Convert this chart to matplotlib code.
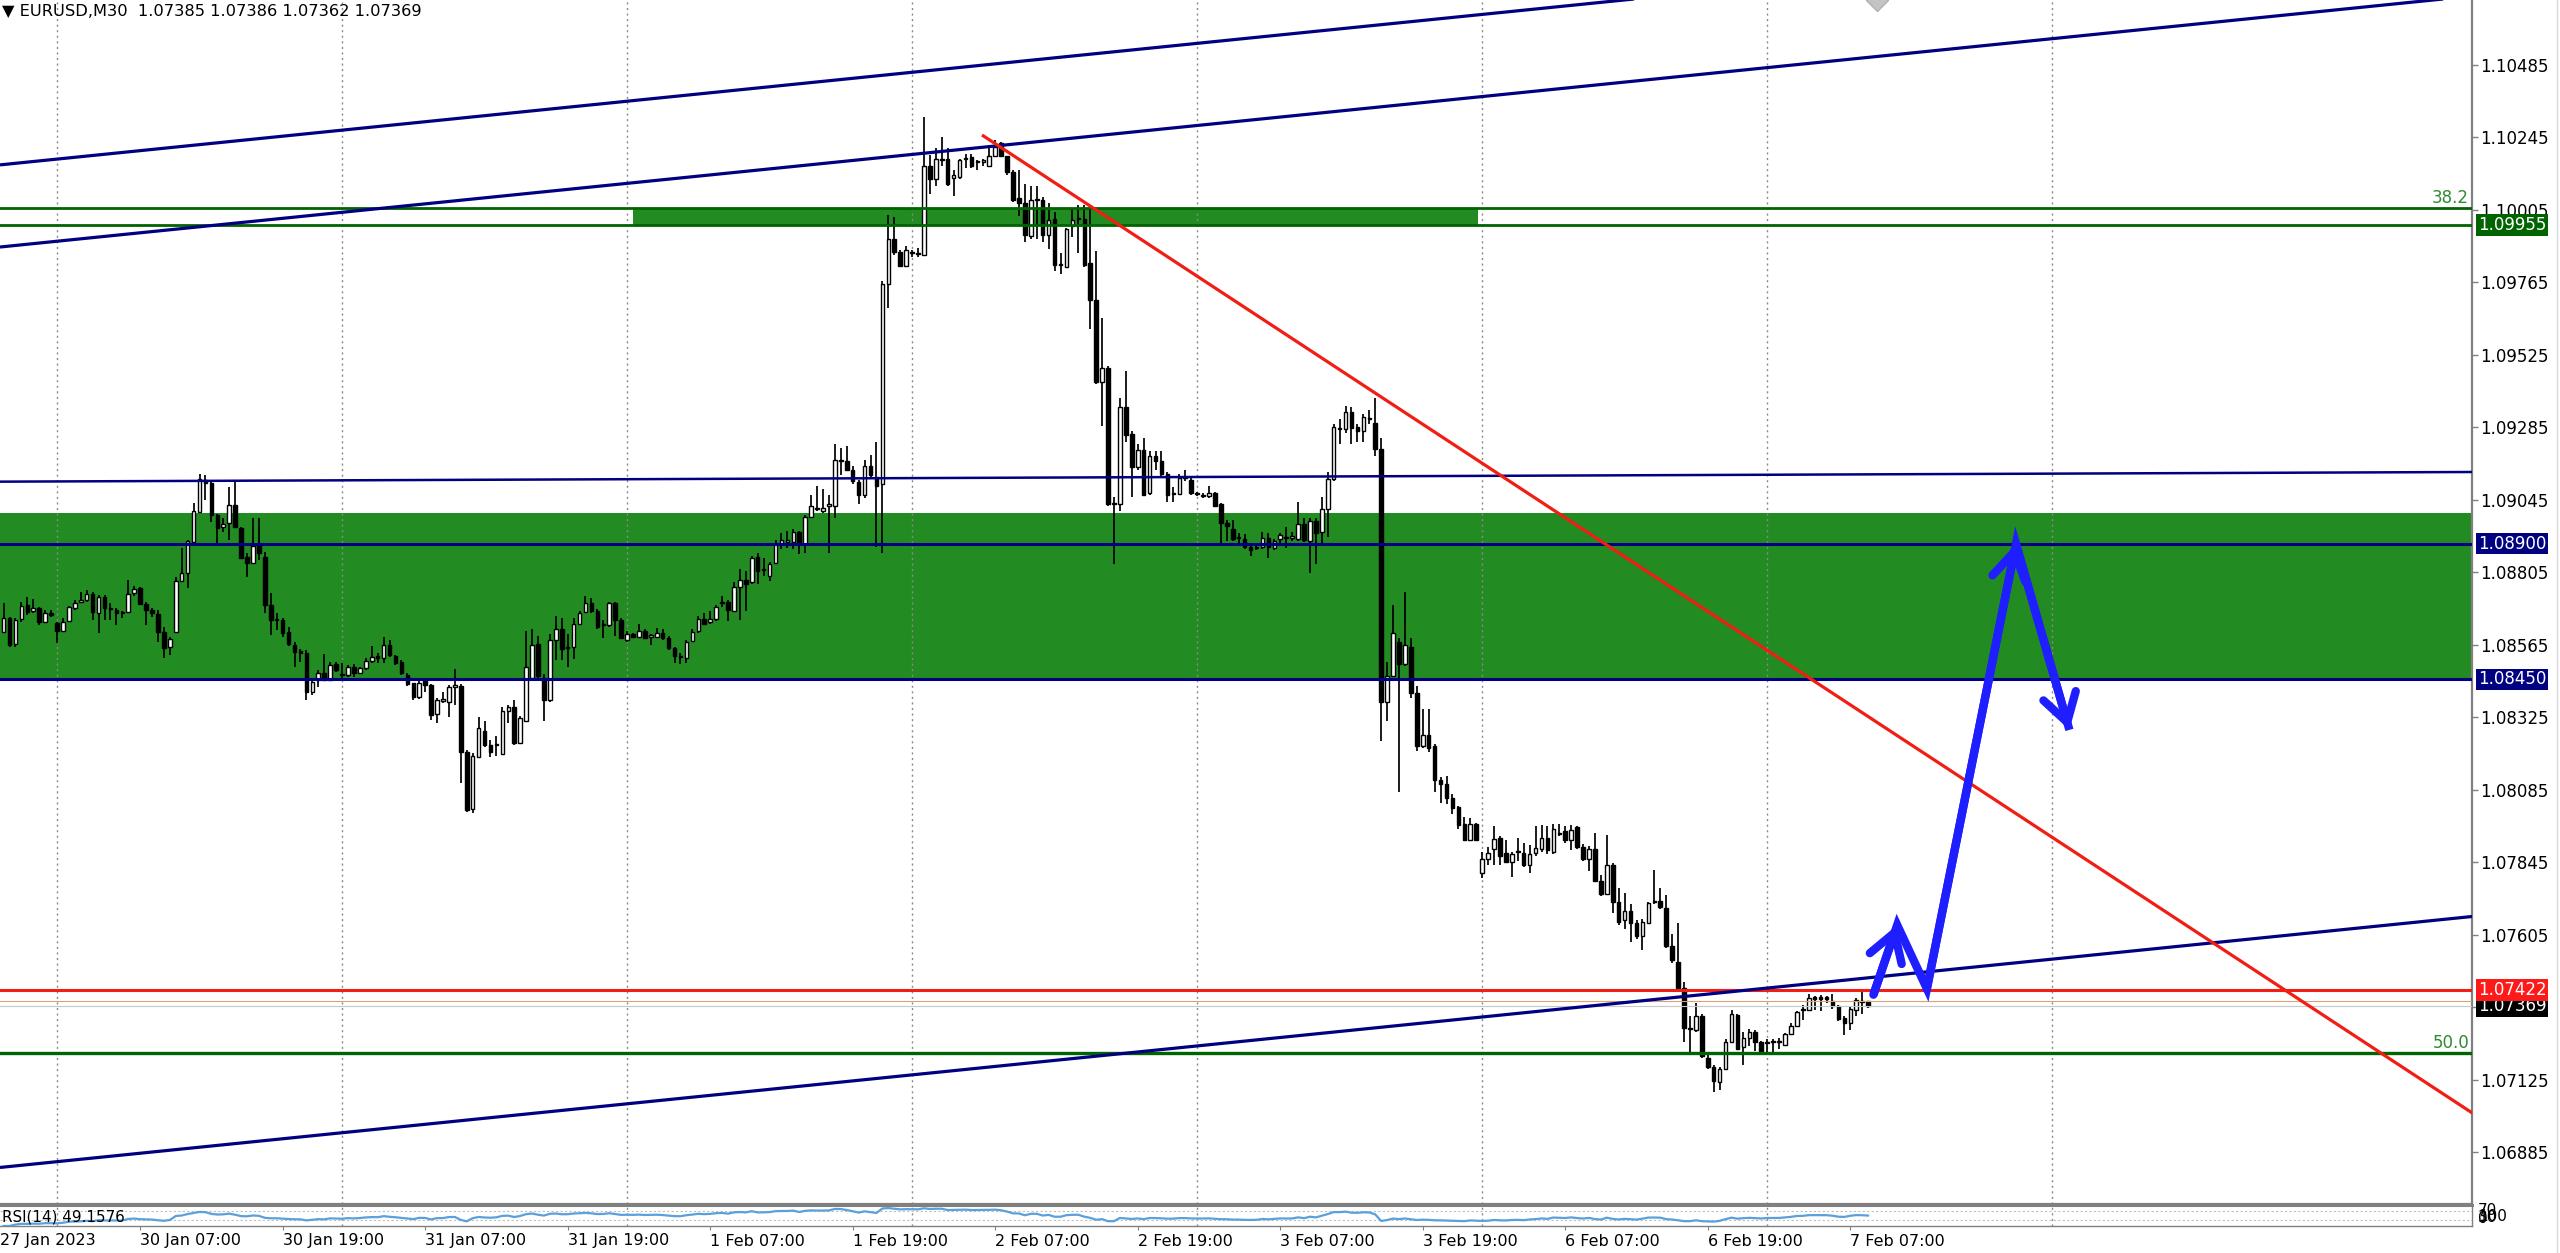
import numpy as np
import pandas as pd
import matplotlib
matplotlib.use("Agg")
import matplotlib.pyplot as plt
import matplotlib.transforms as mtransforms
from matplotlib import font_manager
from matplotlib.patches import FancyArrowPatch, Rectangle
from matplotlib.lines import Line2D

# EURUSD M30, bar 0 = 30 Jan 00:00, first visible bar is 27 Jan (Fri evening)
first_bar = -9

opens = [
    1.08608, 1.08653, 1.08568, 1.08650, 1.08697, 1.08678, 1.08688, 1.08641, 1.08671, 1.08636,
    1.08612, 1.08645, 1.08688, 1.08708, 1.08713, 1.08733, 1.08669, 1.08724, 1.08685, 1.08680,
    1.08669, 1.08675, 1.08735, 1.08752, 1.08700, 1.08679, 1.08667, 1.08608, 1.08556, 1.08608,
    1.08777, 1.08802, 1.08906, 1.09005, 1.09111, 1.09102, 1.08995, 1.08956, 1.08967, 1.09027,
    1.08951, 1.08854, 1.08837, 1.08892, 1.08857, 1.08697, 1.08649, 1.08647, 1.08608, 1.08564,
    1.08545, 1.08537, 1.08410, 1.08448, 1.08473, 1.08448, 1.08501, 1.08468, 1.08465, 1.08492,
    1.08473, 1.08489, 1.08512, 1.08528, 1.08520, 1.08564, 1.08528, 1.08509, 1.08465, 1.08437,
    1.08393, 1.08448, 1.08432, 1.08336, 1.08380, 1.08377, 1.08426, 1.08428, 1.08211, 1.08020,
    1.08194, 1.08278, 1.08233, 1.08233, 1.08204, 1.08344, 1.08359, 1.08241, 1.08314, 1.08455,
    1.08568, 1.08455, 1.08381, 1.08580, 1.08617, 1.08555, 1.08558, 1.08635, 1.08673, 1.08703,
    1.08676, 1.08629, 1.08629, 1.08703, 1.08647, 1.08580, 1.08599, 1.08590, 1.08610, 1.08592,
    1.08592, 1.08605, 1.08587, 1.08555, 1.08529, 1.08521, 1.08576, 1.08610, 1.08651, 1.08639,
    1.08650, 1.08703, 1.08706, 1.08676, 1.08757, 1.08779, 1.08772, 1.08856, 1.08812, 1.08791,
    1.08835, 1.08900, 1.08905, 1.08905, 1.08939, 1.08897, 1.08989, 1.09015, 1.09008, 1.09023,
    1.09023, 1.09173, 1.09173, 1.09145, 1.09104, 1.09060, 1.09156, 1.09122, 1.09097, 1.09760,
    1.09908, 1.09864, 1.09820, 1.09861, 1.09859, 1.09856, 1.10151, 1.10107, 1.10171, 1.10174,
    1.10110, 1.10113, 1.10174, 1.10179, 1.10162, 1.10165, 1.10151, 1.10182, 1.10225, 1.10182,
    1.10129, 1.10045, 1.10029, 1.09920, 1.10037, 1.10037, 1.09923, 1.09976, 1.09823, 1.09816,
    1.09953, 1.09974, 1.09976, 1.09828, 1.09706, 1.09435, 1.09483, 1.09030, 1.09030, 1.09351,
    1.09264, 1.09152, 1.09209, 1.09068, 1.09190, 1.09175, 1.09129, 1.09065, 1.09065, 1.09117,
    1.09111, 1.09065, 1.09059, 1.09056, 1.09068, 1.09030, 1.08969, 1.08949, 1.08919, 1.08916,
    1.08888, 1.08885, 1.08888, 1.08919, 1.08885, 1.08916, 1.08919, 1.08920, 1.08916, 1.08965,
    1.08908, 1.08974, 1.08939, 1.09015, 1.09114, 1.09282, 1.09279, 1.09335, 1.09285, 1.09274,
    1.09312, 1.09300, 1.09213, 1.08374, 1.08461, 1.08573, 1.08501, 1.08557, 1.08405, 1.08229,
    1.08267, 1.08229, 1.08118, 1.08103, 1.08058, 1.08027, 1.07971, 1.07918, 1.07971, 1.07809,
    1.07857, 1.07888, 1.07926, 1.07875, 1.07845, 1.07880, 1.07875, 1.07834, 1.07875, 1.07888,
    1.07926, 1.07880, 1.07941, 1.07948, 1.07918, 1.07960, 1.07895, 1.07857, 1.07888, 1.07784,
    1.07739, 1.07834, 1.07713, 1.07652, 1.07683, 1.07642, 1.07599, 1.07645, 1.07712, 1.07718,
    1.07693, 1.07566, 1.07516, 1.07429, 1.07293, 1.07288, 1.07334, 1.07197, 1.07167, 1.07116,
    1.07159, 1.07250, 1.07338, 1.07232, 1.07262, 1.07283, 1.07250, 1.07247, 1.07250, 1.07250,
    1.07238, 1.07277, 1.07303, 1.07356, 1.07356, 1.07394, 1.07394, 1.07394, 1.07384, 1.07369,
    1.07329, 1.07314, 1.07356, 1.07384, 1.07385,
]
highs = [
    1.08702, 1.08656, 1.08653, 1.08708, 1.08724, 1.08715, 1.08691, 1.08680, 1.08680, 1.08641,
    1.08653, 1.08694, 1.08713, 1.08739, 1.08746, 1.08741, 1.08730, 1.08730, 1.08704, 1.08686,
    1.08678, 1.08779, 1.08760, 1.08757, 1.08708, 1.08686, 1.08680, 1.08625, 1.08592, 1.08790,
    1.08884, 1.08912, 1.09033, 1.09129, 1.09127, 1.09111, 1.08998, 1.08984, 1.09086, 1.09105,
    1.08954, 1.08868, 1.08984, 1.08984, 1.08873, 1.08735, 1.08669, 1.08653, 1.08625, 1.08575,
    1.08550, 1.08548, 1.08448, 1.08481, 1.08534, 1.08509, 1.08509, 1.08504, 1.08498, 1.08501,
    1.08492, 1.08520, 1.08561, 1.08537, 1.08590, 1.08581, 1.08531, 1.08515, 1.08470, 1.08439,
    1.08446, 1.08454, 1.08435, 1.08388, 1.08409, 1.08432, 1.08484, 1.08435, 1.08217, 1.08205,
    1.08327, 1.08314, 1.08248, 1.08263, 1.08359, 1.08366, 1.08381, 1.08329, 1.08610, 1.08617,
    1.08595, 1.08469, 1.08602, 1.08661, 1.08654, 1.08602, 1.08654, 1.08676, 1.08728, 1.08720,
    1.08683, 1.08647, 1.08708, 1.08708, 1.08654, 1.08610, 1.08605, 1.08632, 1.08617, 1.08599,
    1.08620, 1.08617, 1.08595, 1.08558, 1.08536, 1.08580, 1.08617, 1.08661, 1.08669, 1.08676,
    1.08698, 1.08728, 1.08713, 1.08772, 1.08816, 1.08809, 1.08860, 1.08868, 1.08853, 1.08838,
    1.08912, 1.08934, 1.08942, 1.08949, 1.08942, 1.08993, 1.09060, 1.09089, 1.09082, 1.09060,
    1.09229, 1.09215, 1.09222, 1.09156, 1.09111, 1.09178, 1.09192, 1.09237, 1.09768, 1.09989,
    1.09982, 1.09871, 1.09886, 1.09871, 1.09878, 1.10314, 1.10188, 1.10210, 1.10247, 1.10210,
    1.10136, 1.10174, 1.10190, 1.10190, 1.10170, 1.10174, 1.10220, 1.10235, 1.10231, 1.10185,
    1.10136, 1.10136, 1.10090, 1.10083, 1.10083, 1.10048, 1.10029, 1.09999, 1.09862, 1.09946,
    1.10007, 1.10022, 1.10022, 1.10022, 1.09869, 1.09648, 1.09488, 1.09053, 1.09381, 1.09473,
    1.09274, 1.09229, 1.09251, 1.09206, 1.09206, 1.09206, 1.09137, 1.09087, 1.09129, 1.09145,
    1.09117, 1.09071, 1.09068, 1.09091, 1.09071, 1.09035, 1.08977, 1.08977, 1.08934, 1.08931,
    1.08901, 1.08893, 1.08939, 1.08934, 1.08916, 1.08934, 1.08954, 1.08939, 1.09038, 1.08985,
    1.08985, 1.08985, 1.09053, 1.09137, 1.09297, 1.09312, 1.09355, 1.09351, 1.09297, 1.09328,
    1.09343, 1.09381, 1.09251, 1.08507, 1.08695, 1.08588, 1.08740, 1.08588, 1.08428, 1.08351,
    1.08351, 1.08237, 1.08127, 1.08131, 1.08070, 1.08032, 1.07994, 1.07991, 1.07976, 1.07880,
    1.07895, 1.07964, 1.07933, 1.07918, 1.07880, 1.07926, 1.07910, 1.07903, 1.07964, 1.07967,
    1.07964, 1.07971, 1.07971, 1.07964, 1.07967, 1.07964, 1.07906, 1.07900, 1.07941, 1.07804,
    1.07936, 1.07842, 1.07759, 1.07743, 1.07705, 1.07652, 1.07657, 1.07713, 1.07819, 1.07759,
    1.07736, 1.07607, 1.07645, 1.07447, 1.07334, 1.07379, 1.07341, 1.07205, 1.07174, 1.07167,
    1.07258, 1.07356, 1.07341, 1.07283, 1.07292, 1.07288, 1.07253, 1.07258, 1.07258, 1.07262,
    1.07280, 1.07314, 1.07353, 1.07371, 1.07409, 1.07402, 1.07405, 1.07402, 1.07409, 1.07371,
    1.07334, 1.07364, 1.07394, 1.07417, 1.07386,
]
lows = [
    1.08603, 1.08559, 1.08559, 1.08641, 1.08664, 1.08669, 1.08630, 1.08636, 1.08658, 1.08572,
    1.08608, 1.08641, 1.08680, 1.08702, 1.08708, 1.08647, 1.08603, 1.08647, 1.08647, 1.08630,
    1.08653, 1.08669, 1.08726, 1.08697, 1.08630, 1.08658, 1.08575, 1.08520, 1.08531, 1.08605,
    1.08774, 1.08752, 1.08901, 1.09002, 1.09044, 1.08973, 1.08901, 1.08939, 1.08912, 1.08951,
    1.08848, 1.08790, 1.08835, 1.08846, 1.08669, 1.08597, 1.08614, 1.08592, 1.08561, 1.08492,
    1.08509, 1.08382, 1.08399, 1.08426, 1.08446, 1.08446, 1.08476, 1.08454, 1.08459, 1.08457,
    1.08468, 1.08481, 1.08506, 1.08506, 1.08504, 1.08526, 1.08498, 1.08465, 1.08428, 1.08382,
    1.08384, 1.08409, 1.08316, 1.08305, 1.08371, 1.08327, 1.08366, 1.08106, 1.08012, 1.08007,
    1.08189, 1.08226, 1.08192, 1.08197, 1.08201, 1.08307, 1.08233, 1.08236, 1.08310, 1.08452,
    1.08455, 1.08314, 1.08374, 1.08514, 1.08514, 1.08492, 1.08517, 1.08629, 1.08669, 1.08669,
    1.08617, 1.08587, 1.08624, 1.08595, 1.08585, 1.08573, 1.08587, 1.08587, 1.08585, 1.08565,
    1.08587, 1.08580, 1.08546, 1.08506, 1.08502, 1.08506, 1.08573, 1.08605, 1.08632, 1.08635,
    1.08644, 1.08691, 1.08644, 1.08673, 1.08647, 1.08676, 1.08767, 1.08765, 1.08794, 1.08776,
    1.08831, 1.08883, 1.08885, 1.08883, 1.08865, 1.08868, 1.08986, 1.09008, 1.09001, 1.08868,
    1.08986, 1.09126, 1.09141, 1.09097, 1.09030, 1.09052, 1.09119, 1.08890, 1.08868, 1.09679,
    1.09856, 1.09815, 1.09815, 1.09849, 1.09849, 1.09853, 1.10056, 1.10085, 1.10151, 1.10085,
    1.10052, 1.10106, 1.10144, 1.10144, 1.10136, 1.10151, 1.10148, 1.10179, 1.10182, 1.10121,
    1.10032, 1.09984, 1.09900, 1.09907, 1.09907, 1.09900, 1.09877, 1.09801, 1.09793, 1.09813,
    1.09915, 1.09862, 1.09816, 1.09610, 1.09427, 1.09289, 1.09023, 1.08832, 1.09007, 1.09236,
    1.09053, 1.09145, 1.09056, 1.09061, 1.09145, 1.09122, 1.09038, 1.09038, 1.09061, 1.09107,
    1.09061, 1.09056, 1.09050, 1.09050, 1.09023, 1.08901, 1.08908, 1.08908, 1.08901, 1.08882,
    1.08858, 1.08878, 1.08882, 1.08852, 1.08878, 1.08901, 1.08885, 1.08908, 1.08908, 1.08904,
    1.08801, 1.08832, 1.08893, 1.08923, 1.09107, 1.09229, 1.09267, 1.09229, 1.09236, 1.09236,
    1.09297, 1.09190, 1.08245, 1.08313, 1.08458, 1.08077, 1.08496, 1.08390, 1.08214, 1.08222,
    1.08209, 1.08077, 1.08042, 1.08039, 1.08006, 1.07956, 1.07915, 1.07915, 1.07915, 1.07794,
    1.07834, 1.07834, 1.07834, 1.07842, 1.07797, 1.07850, 1.07830, 1.07809, 1.07865, 1.07880,
    1.07872, 1.07872, 1.07933, 1.07910, 1.07885, 1.07888, 1.07850, 1.07815, 1.07778, 1.07733,
    1.07736, 1.07675, 1.07637, 1.07622, 1.07581, 1.07592, 1.07554, 1.07642, 1.07705, 1.07690,
    1.07561, 1.07511, 1.07425, 1.07250, 1.07212, 1.07283, 1.07197, 1.07159, 1.07083, 1.07091,
    1.07156, 1.07247, 1.07223, 1.07174, 1.07235, 1.07220, 1.07217, 1.07217, 1.07208, 1.07227,
    1.07235, 1.07273, 1.07299, 1.07323, 1.07353, 1.07356, 1.07353, 1.07379, 1.07359, 1.07318,
    1.07273, 1.07288, 1.07334, 1.07341, 1.07362,
]
closes = [
    1.08653, 1.08564, 1.08647, 1.08694, 1.08675, 1.08688, 1.08641, 1.08671, 1.08664, 1.08612,
    1.08641, 1.08691, 1.08704, 1.08710, 1.08733, 1.08675, 1.08724, 1.08686, 1.08682, 1.08669,
    1.08672, 1.08733, 1.08750, 1.08700, 1.08680, 1.08669, 1.08608, 1.08555, 1.08583, 1.08777,
    1.08804, 1.08910, 1.09007, 1.09113, 1.09100, 1.08995, 1.08951, 1.08965, 1.09027, 1.08954,
    1.08851, 1.08837, 1.08892, 1.08868, 1.08697, 1.08647, 1.08647, 1.08603, 1.08568, 1.08542,
    1.08537, 1.08410, 1.08443, 1.08473, 1.08448, 1.08498, 1.08481, 1.08465, 1.08492, 1.08470,
    1.08487, 1.08511, 1.08526, 1.08520, 1.08564, 1.08531, 1.08506, 1.08470, 1.08435, 1.08393,
    1.08439, 1.08432, 1.08332, 1.08382, 1.08384, 1.08426, 1.08428, 1.08211, 1.08018, 1.08197,
    1.08288, 1.08233, 1.08211, 1.08236, 1.08344, 1.08359, 1.08241, 1.08322, 1.08492, 1.08565,
    1.08462, 1.08381, 1.08580, 1.08617, 1.08551, 1.08558, 1.08635, 1.08669, 1.08703, 1.08676,
    1.08624, 1.08632, 1.08703, 1.08647, 1.08587, 1.08602, 1.08590, 1.08610, 1.08587, 1.08593,
    1.08604, 1.08587, 1.08555, 1.08529, 1.08523, 1.08573, 1.08607, 1.08651, 1.08635, 1.08651,
    1.08691, 1.08706, 1.08679, 1.08757, 1.08779, 1.08767, 1.08853, 1.08809, 1.08813, 1.08831,
    1.08897, 1.08912, 1.08912, 1.08939, 1.08897, 1.08989, 1.09023, 1.09018, 1.09018, 1.09030,
    1.09178, 1.09175, 1.09145, 1.09107, 1.09060, 1.09156, 1.09126, 1.09092, 1.09760, 1.09908,
    1.09864, 1.09820, 1.09871, 1.09864, 1.09861, 1.10151, 1.10107, 1.10174, 1.10174, 1.10092,
    1.10121, 1.10170, 1.10173, 1.10151, 1.10162, 1.10167, 1.10185, 1.10212, 1.10185, 1.10129,
    1.10037, 1.10029, 1.09923, 1.10037, 1.10039, 1.09923, 1.09971, 1.09823, 1.09822, 1.09941,
    1.09971, 1.09976, 1.09823, 1.09706, 1.09435, 1.09480, 1.09030, 1.09033, 1.09351, 1.09259,
    1.09152, 1.09209, 1.09061, 1.09190, 1.09172, 1.09132, 1.09061, 1.09067, 1.09117, 1.09116,
    1.09068, 1.09064, 1.09058, 1.09068, 1.09026, 1.08969, 1.08959, 1.08916, 1.08917, 1.08888,
    1.08878, 1.08884, 1.08919, 1.08888, 1.08908, 1.08927, 1.08920, 1.08922, 1.08965, 1.08913,
    1.08974, 1.08934, 1.09015, 1.09114, 1.09285, 1.09280, 1.09335, 1.09282, 1.09274, 1.09320,
    1.09314, 1.09213, 1.08374, 1.08461, 1.08603, 1.08501, 1.08565, 1.08405, 1.08230, 1.08267,
    1.08222, 1.08118, 1.08103, 1.08058, 1.08024, 1.07967, 1.07918, 1.07971, 1.07918, 1.07857,
    1.07875, 1.07921, 1.07865, 1.07845, 1.07872, 1.07879, 1.07834, 1.07872, 1.07891, 1.07926,
    1.07885, 1.07956, 1.07939, 1.07918, 1.07951, 1.07895, 1.07857, 1.07888, 1.07784, 1.07739,
    1.07834, 1.07713, 1.07648, 1.07683, 1.07645, 1.07599, 1.07648, 1.07709, 1.07713, 1.07698,
    1.07566, 1.07520, 1.07429, 1.07296, 1.07291, 1.07334, 1.07202, 1.07167, 1.07121, 1.07159,
    1.07250, 1.07341, 1.07227, 1.07262, 1.07283, 1.07250, 1.07220, 1.07246, 1.07249, 1.07249,
    1.07277, 1.07303, 1.07349, 1.07355, 1.07394, 1.07393, 1.07393, 1.07393, 1.07369, 1.07326,
    1.07314, 1.07359, 1.07387, 1.07382, 1.07369,
]

# axis labels
price_ticks = [1.10485, 1.10245, 1.10005, 1.09765, 1.09525, 1.09285, 1.09045, 1.08805,
               1.08565, 1.08325, 1.08085, 1.07845, 1.07605, 1.07365, 1.07125, 1.06885]
time_labels = ["27 Jan 2023", "30 Jan 07:00", "30 Jan 19:00", "31 Jan 07:00", "31 Jan 19:00",
               "1 Feb 07:00", "1 Feb 19:00", "2 Feb 07:00", "2 Feb 19:00", "3 Feb 07:00",
               "3 Feb 19:00", "6 Feb 07:00", "6 Feb 19:00", "7 Feb 07:00"]
time_label_bars = [-9.6, 14, 38, 62, 86, 110, 134, 158, 182, 206, 230, 254, 278, 302]
day_bars = [0, 48, 96, 144, 192, 240, 288, 336]

# drawn objects (bar index, price)
zone_low, zone_high = 1.0845, 1.0900
band_low, band_high = 1.09955, 1.10012
band_bars = (97, 239.3)
fib_382, fib_500 = 1.10012, 1.07212
blue_levels = [1.0890, 1.0845]
red_level = 1.07422
bid_price = 1.07369
orange_level = 1.07384
channel_a = ([-9.6, 406.7], [1.10154, 1.10985])
channel_b = ([-9.6, 406.7], [1.09882, 1.10713])
channel_c = ([-9.6, 406.7], [1.06834, 1.07665])
flat_line = ([-9.6, 406.7], [1.09105, 1.09137])
red_trend = ([156.0, 406.7], [1.10250, 1.07015])
arrow_bars = [305.9, 309.9, 314.9, 329.9, 338.9]
arrow_prices = [1.07406, 1.07637, 1.07426, 1.08899, 1.08283]
marker_bar, marker_price = 306.5, 1.10700

names = {f.name for f in font_manager.fontManager.ttflist}
if "Liberation Sans Narrow" in names:
    narrow, nsize = ["Liberation Sans Narrow", "DejaVu Sans"], 14.2
else:
    narrow, nsize = ["DejaVu Sans"], 11.5

W, H = 2560, 1253
fig = plt.figure(figsize=(W / 100, H / 100), dpi=100)
fig.patch.set_facecolor("white")
ax = fig.add_axes([0, 49 / H, 2472 / W, 1204 / H])
rax = fig.add_axes([0, 27 / H, 2472 / W, 21 / H])

xlim = (-9.6, 406.7)
ax.set_xlim(*xlim)
ax.set_ylim(1.06713, 1.10700)

NAVY = "#000080"
GREEN = "#228b22"
DKGREEN = "#006400"
RED = "#f01e14"
BLUE = "#1e1eff"

# zones
ax.axhspan(zone_low, zone_high, color=GREEN, lw=0, zorder=1)
ax.add_patch(Rectangle((band_bars[0], band_low), band_bars[1] - band_bars[0],
                       band_high - band_low, color=GREEN, lw=0, zorder=1))
for d in day_bars:
    ax.axvline(d, color="#8a8a8a", lw=1, ls=(0, (1.5, 2.5)), zorder=1.5)
    rax.axvline(d, color="#8a8a8a", lw=1, ls=(0, (1.5, 2.5)), zorder=1.5)

# candles
k = np.arange(first_bar, first_bar + len(closes))
o, h, l, c = (np.array(v) for v in (opens, highs, lows, closes))
up = c >= o
ax.vlines(k, l, h, color="black", lw=1.25, zorder=3)
lo = np.minimum(o, c)
ht = np.maximum(np.abs(c - o), 0.00004)
ax.bar(k[up], ht[up], bottom=lo[up], width=0.6, color="white",
       edgecolor="black", lw=1.0, zorder=4)
ax.bar(k[~up], ht[~up], bottom=lo[~up], width=0.6, color="black",
       edgecolor="black", lw=1.0, zorder=4)

# horizontal levels
for lev in (band_high, band_low):
    ax.axhline(lev, color=DKGREEN, lw=2, zorder=5)
ax.axhline(fib_500, color=DKGREEN, lw=2.4, zorder=5)
for lev in blue_levels:
    ax.axhline(lev, color=NAVY, lw=2.2, zorder=5)
ax.axhline(orange_level, color="#e0a070", lw=0.8, zorder=5)
ax.axhline(bid_price, color="#c8c8c8", lw=0.8, zorder=5)
ax.axhline(red_level, color=RED, lw=2.2, zorder=6)

# trend lines
for xs, ys in (channel_a, channel_b, channel_c):
    ax.plot(xs, ys, color=NAVY, lw=2.3, zorder=6, solid_capstyle="butt")
ax.plot(*flat_line, color=NAVY, lw=1.8, zorder=6)
ax.plot(*red_trend, color=RED, lw=2.3, zorder=6)

# object marker cut by the top edge
ax.plot([marker_bar], [marker_price], marker="D", ms=11, color="#c4c4c4",
        mec="#b0b0b0", zorder=6)

# projected path arrow
ax.plot(arrow_bars, arrow_prices, color=BLUE, lw=6, zorder=8,
        solid_joinstyle="miter", solid_capstyle="butt")
for i in (0, 2, 3):
    ax.add_patch(FancyArrowPatch((arrow_bars[i], arrow_prices[i]),
                                 (arrow_bars[i + 1], arrow_prices[i + 1]),
                                 arrowstyle="->,head_length=0.9,head_width=0.55",
                                 mutation_scale=22, lw=6, color=BLUE,
                                 shrinkA=0, shrinkB=0, zorder=8))

# fib texts
ax.text(2469 / 2472, fib_382 + 0.00003, "38.2", transform=ax.get_yaxis_transform(),
        ha="right", va="bottom", color="#2e8b2e", fontsize=12, zorder=7)
ax.text(2469 / 2472, fib_500 + 0.00003, "50.0", transform=ax.get_yaxis_transform(),
        ha="right", va="bottom", color="#2e8b2e", fontsize=12, zorder=7)

# axes styling
for s in ("top", "left"):
    ax.spines[s].set_visible(False)
for s in ("right", "bottom"):
    ax.spines[s].set_color("#808080")
    ax.spines[s].set_linewidth(1.6)
ax.set_xticks([])
ax.yaxis.tick_right()
ax.set_yticks(price_ticks)
ax.set_yticklabels([f"{v:.5f}" for v in price_ticks])
ax.tick_params(axis="y", length=4, width=1, color="#808080", pad=2,
               labelsize=12, labelcolor="black")

# price tags on the scale
tx = 1 + 6 / 2472
for price, text, col in ((band_low, "1.09955", DKGREEN), (blue_levels[0], "1.08900", NAVY),
                         (blue_levels[1], "1.08450", NAVY), (bid_price, "1.07369", "black"),
                         (red_level, "1.07422", "#ff1a1a")):
    ax.text(tx, price, text, transform=ax.get_yaxis_transform(), ha="left", va="center",
            color="white", fontsize=12, clip_on=False, zorder=20,
            bbox=dict(boxstyle="square,pad=0.1", fc=col, ec="none"))

# header
fig.text(2 / W, 1 - 12 / H, "\u25bc EURUSD,M30  1.07385 1.07386 1.07362 1.07369",
         family=narrow, fontsize=nsize * 1.02, va="center", ha="left")

# RSI panel
cs = pd.Series(closes)
delta = cs.diff()
gain = delta.clip(lower=0).ewm(alpha=1 / 14, adjust=False).mean()
loss = (-delta.clip(upper=0)).ewm(alpha=1 / 14, adjust=False).mean()
rsi = (100 - 100 / (1 + gain / loss)).bfill()
rax.set_xlim(*xlim)
rax.set_ylim(0, 100)
rax.plot(k, rsi, color="#5aa0dc", lw=1.6, zorder=3)
for lev in (70, 30):
    rax.axhline(lev, color="#c0c0c0", lw=0.8, ls=(0, (2, 2)), zorder=2)
for s in rax.spines.values():
    s.set_color("#808080")
    s.set_linewidth(1)
rax.spines["top"].set_linewidth(2.2)
rax.spines["left"].set_visible(False)
rax.set_yticks([])
rax.set_xticks(time_label_bars[1:])
rax.tick_params(axis="x", length=3, color="#808080", labelbottom=False)
rax.text(0.001, 0.45, "RSI(14) 49.1576", transform=rax.transAxes, family=narrow,
         fontsize=nsize * 0.95, va="center", ha="left", zorder=5)
for v, lab in ((72, "70"), (40, "30"), (45, "100"), (35, "0")):
    rax.text(tx, v, lab, transform=rax.get_yaxis_transform(), ha="left", va="center",
             fontsize=11, clip_on=False)

# time scale
ttrans = mtransforms.blended_transform_factory(rax.transData, fig.transFigure)
for kk, lab in zip(time_label_bars, time_labels):
    fig.text(kk, 1 - 1241 / H, lab, transform=ttrans, family=narrow, fontsize=nsize,
             ha="left", va="center")

fig.add_artist(Line2D([2557 / W, 2557 / W], [0, 1], color="#d8d8d8", lw=1))

fig.savefig("out.png", dpi=100, facecolor="white")
